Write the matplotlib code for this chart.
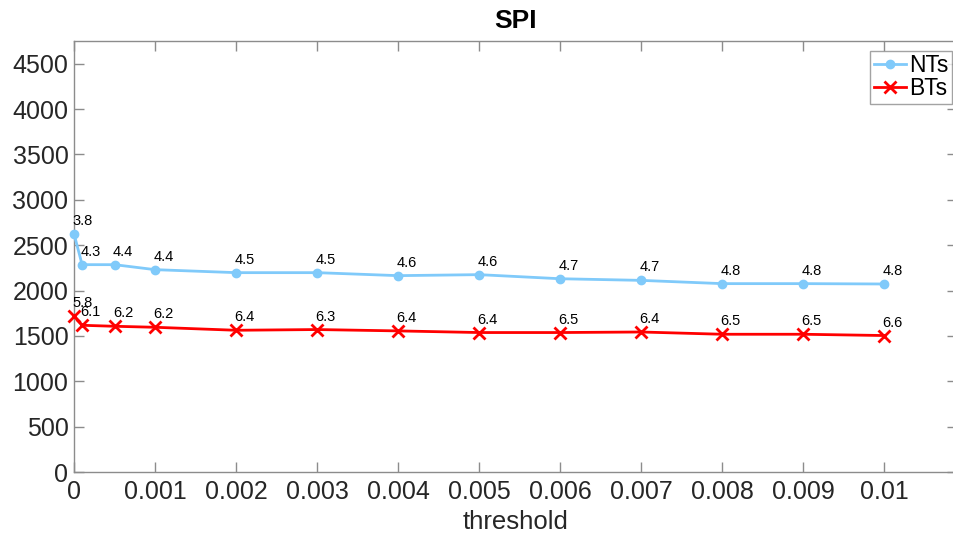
import matplotlib
matplotlib.use("Agg")
import matplotlib.pyplot as plt
from matplotlib.ticker import MultipleLocator

plt.rcParams['font.family'] = ['Liberation Sans', 'DejaVu Sans']

# thresholds tested
threshold = [0, 0.0001, 0.0005, 0.001, 0.002, 0.003, 0.004, 0.005,
             0.006, 0.007, 0.008, 0.009, 0.01]

# SPI values per series
nts_spi = [2626, 2285, 2285, 2230, 2197, 2197, 2164, 2175, 2130, 2112, 2076, 2076, 2072]
bts_spi = [1720, 1617, 1606, 1595, 1562, 1570, 1555, 1537, 1537, 1543, 1518, 1518, 1504]

# annotation values shown above each point
nts_labels = ["3.8", "4.3", "4.4", "4.4", "4.5", "4.5", "4.6", "4.6", "4.7", "4.7", "4.8", "4.8", "4.8"]
bts_labels = ["5.8", "6.1", "6.2", "6.2", "6.4", "6.3", "6.4", "6.4", "6.5", "6.4", "6.5", "6.5", "6.6"]

x_ticks = [0, 0.001, 0.002, 0.003, 0.004, 0.005, 0.006, 0.007, 0.008, 0.009, 0.01]
x_tick_labels = ["0", "0.001", "0.002", "0.003", "0.004", "0.005", "0.006",
                 "0.007", "0.008", "0.009", "0.01"]

nts_color = "#80CAFA"
bts_color = "#FF0000"
axis_color = "#8C8C8C"
text_color = "#262626"

fig = plt.figure(figsize=(9.54, 5.33), dpi=100)
ax = fig.add_axes([74 / 954, 61 / 533, 883 / 954, 431 / 533])

ax.plot(threshold, nts_spi, color=nts_color, marker='o', markersize=6,
        linewidth=2, label="NTs", clip_on=False, zorder=3)
ax.plot(threshold, bts_spi, color=bts_color, marker='x', markersize=9,
        markeredgewidth=2, linewidth=2, label="BTs", clip_on=False, zorder=3)

for xs, ys, labs in ((threshold, nts_spi, nts_labels), (threshold, bts_spi, bts_labels)):
    for xv, yv, lab in zip(xs, ys, labs):
        ax.annotate(lab, (xv, yv), xytext=(-1, 6.5), textcoords='offset points',
                    ha='left', va='baseline', fontsize=10.5, color='black')

ax.set_xlim(0, 0.0109)
ax.set_ylim(0, 4750)
ax.set_xticks(x_ticks)
ax.set_xticklabels(x_tick_labels)
ax.yaxis.set_major_locator(MultipleLocator(500))

for side in ('left', 'right', 'top', 'bottom'):
    ax.spines[side].set_color(axis_color)
    ax.spines[side].set_linewidth(1)

ax.tick_params(axis='both', direction='in', length=7, width=1, color=axis_color,
               labelsize=18, labelcolor=text_color, top=True, right=True, pad=4)
ax.tick_params(axis='x', pad=6)

ax.set_xlabel("threshold", fontsize=18.5, color=text_color, labelpad=4)
ax.set_title("SPI", fontsize=19, fontweight='bold', color='black', pad=9)

leg = ax.legend(loc='upper right', bbox_to_anchor=(952 / 954, 1 - 51 / 533),
                bbox_transform=fig.transFigure, fontsize=16.5, frameon=True,
                fancybox=False, borderpad=0.15, handlelength=1.4,
                handletextpad=0.15, labelspacing=0.0, borderaxespad=0.0)
leg.get_frame().set_edgecolor(axis_color)
leg.get_frame().set_linewidth(1)

fig.savefig("out.png", dpi=100)
